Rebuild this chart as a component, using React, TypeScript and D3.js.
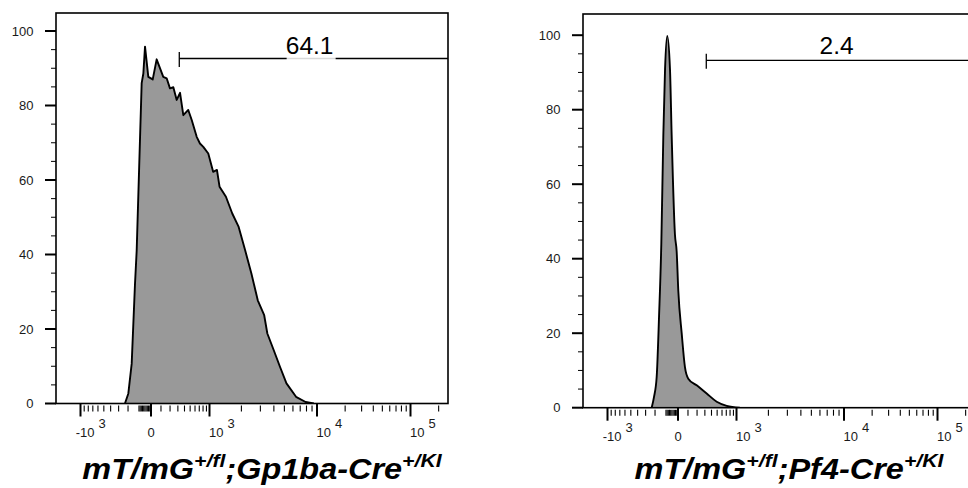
import React from 'react';
import * as d3 from 'd3';

// Histogram outlines: fluorescence (x) and % of max (y)
const gp1baX = [-231, -197, -165, -135, -120, -77, -63, -49, -22, 17, 56, 124, 161, 199, 240, 284, 331, 381, 465, 531, 638, 717, 807, 959, 1084, 1178, 1247, 1433, 1643, 1886, 2164, 2477, 2838, 3255, 3481, 3991, 4563, 5229, 6408, 7851, 9358];
const gp1baY = [0, 2.7, 10.7, 32, 41, 86, 88.6, 95.8, 87.7, 87, 92.4, 87.7, 87.3, 84.6, 84.9, 81.5, 83.4, 77.4, 78.8, 76.1, 71.6, 69.8, 68.9, 67.1, 62.2, 62.7, 58.2, 55.5, 51, 47.4, 41.2, 34.9, 27.7, 23.7, 18.8, 14.3, 9.8, 5.4, 1.8, 0.4, 0];

const pf4X = [-234, -210, -184, -162, -141, -123, -108, -89, -66, -52, -25, -11, 3, 37, 69, 103, 196, 326, 492, 711, 1077];
const pf4Y = [0, 2.9, 8.3, 24.3, 44, 73.2, 90.9, 99.8, 90.9, 73.2, 46.5, 42, 31.4, 19.8, 10.9, 7.8, 6.0, 3.8, 1.6, 0.5, 0];

// gate (positive population) and its percentages
const gateStart = 320;
const gateLabels = ['64.1', '2.4'];

// axes
const yMajor = [0, 20, 40, 60, 80, 100];
const yMinor = [5, 10, 15, 25, 30, 35, 45, 50, 55, 65, 70, 75, 85, 90, 95];
const xMajor = [-1000, 0, 1000, 10000, 100000];
const xLabels = [
  { v: -1000, base: '-10', exp: '3' },
  { v: 0, base: '0', exp: '' },
  { v: 1000, base: '10', exp: '3' },
  { v: 10000, base: '10', exp: '4' },
  { v: 100000, base: '10', exp: '5' },
];
const xMinor = [
  -900, -800, -700, -600, -500, -400, -300, -200, -100,
  -90, -80, -70, -60, -50, -40, -30, -20, -10,
  100, 200, 300, 400, 500, 600, 700, 800, 900,
  2000, 3000, 4000, 5000, 6000, 7000, 8000, 9000,
  20000, 30000, 40000, 50000, 60000, 70000, 80000, 90000,
  200000,
];

const titles = [
  [{ t: 'mT/mG' }, { t: '+/fl', sup: true }, { t: ';Gp1ba-Cre' }, { t: '+/KI', sup: true }],
  [{ t: 'mT/mG' }, { t: '+/fl', sup: true }, { t: ';Pf4-Cre' }, { t: '+/KI', sup: true }],
];

// biexponential-like display transform
const W = 300;
const tr = (v: number) => Math.asinh(v / W);
// where the decade anchors sit, measured from the frame's left edge
const anchorPos = [24.5, 95, 153.5, 261, 354.5];

const FONT = 'Liberation Sans, Arial, Helvetica, sans-serif';
const frameW = 392;

interface PanelProps {
  left: number;
  top: number;
  bottom: number;
  xs: number[];
  ys: number[];
  label: string;
  gateY: number;
  gap?: boolean;
  curve: d3.CurveFactory;
  title: { t: string; sup?: boolean }[];
  id: string;
}

const Panel: React.FC<PanelProps> = ({ left, top, bottom, xs, ys, label, gateY, gap, curve, title, id }) => {
  const right = left + frameW;
  const xT = d3.scaleLinear()
    .domain(xMajor.map(tr))
    .range(anchorPos.map(p => left + p));
  const x = (v: number) => xT(tr(v));
  const y = d3.scaleLinear().domain([0, 100]).range([bottom, bottom - 372.5]);

  const pts = xs.map((v, i) => [v, ys[i]] as [number, number]);
  const area = d3.area<[number, number]>()
    .x(d => x(d[0]))
    .y0(y(0))
    .y1(d => y(d[1]))
    .curve(curve);
  const line = d3.line<[number, number]>()
    .x(d => x(d[0]))
    .y(d => y(d[1]))
    .curve(curve);

  const gx0 = x(gateStart);
  const gMid = (gx0 + right) / 2;

  return (
    <g>
      <defs>
        <clipPath id={id}>
          <rect x={left} y={top} width={frameW} height={bottom - top} />
        </clipPath>
      </defs>

      {/* histogram */}
      <g clipPath={`url(#${id})`}>
        <path d={area(pts) || ''} fill="#999999" />
        <path d={line(pts) || ''} fill="none" stroke="#000" strokeWidth={1.9} strokeLinejoin="round" />
      </g>

      {/* frame */}
      <rect x={left} y={top} width={frameW} height={bottom - top} fill="none" stroke="#000" strokeWidth={1.6} />

      {/* y axis */}
      {yMajor.map(t => (
        <g key={`ym${t}`}>
          <line x1={left - 11} x2={left} y1={y(t)} y2={y(t)} stroke="#000" strokeWidth={2} />
          <text x={left - 22.5} y={y(t) + 4.5} textAnchor="end" fontSize={13} fontFamily={FONT} fill="#1a1a1a">{t}</text>
        </g>
      ))}
      {yMinor.map(t => (
        <line key={`yn${t}`} x1={left - 5} x2={left} y1={y(t)} y2={y(t)} stroke="#000" strokeWidth={1} />
      ))}

      {/* x axis */}
      {xMajor.map(t => (
        <line key={`xm${t}`} x1={x(t)} x2={x(t)} y1={bottom} y2={bottom + 13} stroke="#000" strokeWidth={2} />
      ))}
      {xMinor.map(t => (
        <line key={`xn${t}`} x1={x(t)} x2={x(t)} y1={bottom + 2} y2={bottom + 8} stroke="#000" strokeWidth={1.1} />
      ))}
      {xLabels.map(l => (
        l.exp ? (
          <g key={`xl${l.v}`} fontSize={13} fontFamily={FONT} fill="#1a1a1a">
            <text x={x(l.v) + 14} y={bottom + 33.5} textAnchor="end">{l.base}</text>
            <text x={x(l.v) + 18} y={bottom + 24.5}>{l.exp}</text>
          </g>
        ) : (
          <text key={`xl${l.v}`} x={x(l.v)} y={bottom + 33.5} textAnchor="middle" fontSize={13} fontFamily={FONT} fill="#1a1a1a">{l.base}</text>
        )
      ))}

      {/* gate */}
      <line x1={gx0} x2={right} y1={gateY} y2={gateY} stroke="#000" strokeWidth={1.3} />
      <line x1={gx0} x2={gx0} y1={gateY - 6.5} y2={gateY + 8.5} stroke="#000" strokeWidth={1.3} />
      {gap && <rect x={gMid - 27} y={gateY - 1.5} width={49} height={3} fill="#fff" opacity={0.85} />}
      <text x={gMid - 4} y={53.5} textAnchor="middle" fontSize={24.5} fontFamily={FONT} fill="#000">{label}</text>

      {/* genotype */}
      <text
        transform={`translate(${left + 206},479) scale(1.12,1)`}
        textAnchor="middle"
        fontFamily={FONT}
        fontWeight="bold"
        fontStyle="italic"
        fontSize={29}
        fill="#000"
      >
        {title.map((p, i) => (
          <tspan
            key={i}
            fontSize={p.sup ? 19 : 29}
            dy={p.sup ? -12 : (i > 0 && title[i - 1].sup ? 12 : 0)}
          >
            {p.t}
          </tspan>
        ))}
      </text>
    </g>
  );
};

export default function App() {
  return (
    <svg
      width={968}
      height={488}
      style={{ position: 'absolute', left: 0, top: 0, background: '#fff' }}
    >
      <rect width={968} height={488} fill="#fff" />
      <Panel id="c0" left={56} top={13} bottom={403.5} xs={gp1baX} ys={gp1baY} label={gateLabels[0]}
        gateY={58.5} gap curve={d3.curveLinear} title={titles[0]} />
      <Panel id="c1" left={583} top={14} bottom={407.7} xs={pf4X} ys={pf4Y} label={gateLabels[1]}
        gateY={60.3} curve={d3.curveMonotoneX} title={titles[1]} />
    </svg>
  );
}
